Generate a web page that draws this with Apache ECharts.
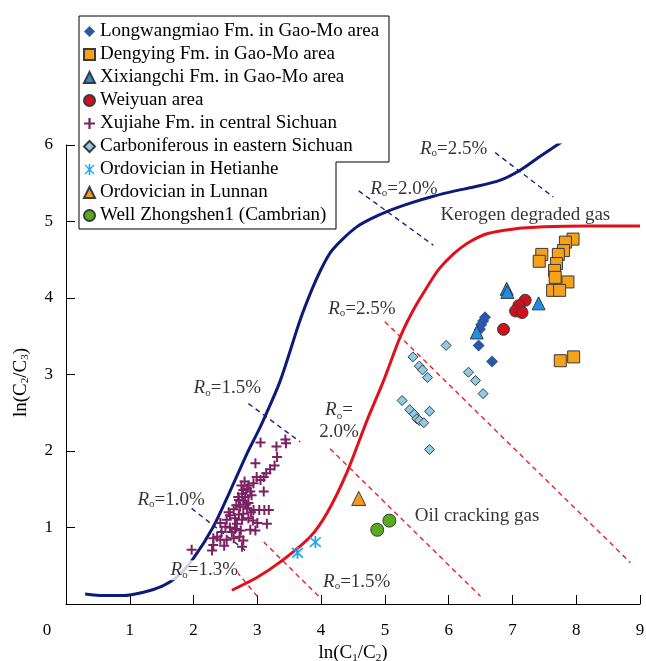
<!DOCTYPE html>
<html>
<head>
<meta charset="utf-8">
<script src="https://cdn.jsdelivr.net/npm/echarts@6/dist/echarts.min.js"></script>
<style>
  html, body { margin: 0; padding: 0; background: #fff; }
  #graph { width: 646px; height: 661px; }
</style>
</head>
<body>
<div id="graph"></div>
<script>
// boundary curves
var kerogenCurve = [[0.3,0.13],[0.6,0.11],[0.9,0.11],[1.2,0.15],[1.5,0.23],[1.75,0.36],[2.0,0.6],
  [2.31,1.01],[2.58,1.49],[2.84,1.97],[3.02,2.27],[3.12,2.45],[3.36,2.92],[3.67,3.71],[3.85,4.1],
  [3.99,4.36],[4.15,4.6],[4.35,4.78],[4.56,4.93],[4.77,5.03],[5.03,5.13],[5.4,5.24],[5.76,5.33],
  [6.1,5.4],[6.39,5.45],[6.81,5.54],[7.12,5.67],[7.43,5.85],[7.77,6.04]];
var oilCurve = [[2.6,0.18],[3.0,0.35],[3.36,0.55],[3.83,0.88],[4.1,1.2],[4.4,1.71],[4.72,2.4],
  [4.98,2.92],[5.24,3.49],[5.45,3.85],[5.66,4.14],[5.85,4.38],[6.08,4.58],[6.3,4.72],[6.6,4.84],
  [7.0,4.9],[7.5,4.93],[8.2,4.94],[9.0,4.94]];

// Ro iso-lines
var roBlue10 = [[1.97,1.25],[2.84,0.68]];
var roBlue15 = [[2.86,2.62],[3.67,2.12]];
var roBlue20 = [[4.59,5.40],[5.76,4.69]];
var roBlue25 = [[6.73,5.90],[7.64,5.32]];
var roRed13 = [[2.68,0.42],[3.0,0.1]];
var roRed15 = [[3.1,0.81],[4.0,0.07]];
var roRed20 = [[4.14,2.03],[6.5,0.1]];
var roRed25 = [[5.0,3.69],[8.85,0.54]];

// samples
var longwangmiao = [[6.57,3.75],[6.54,3.70],[6.51,3.65],[6.49,3.59],[6.47,3.38],[6.68,3.17]];
var dengying = [[7.95,4.77],[7.83,4.73],[7.80,4.62],[7.46,4.57],[7.42,4.48],[7.72,4.57],[7.69,4.45],
  [7.66,4.36],[7.67,4.27],[7.87,4.21],[7.63,4.10],[7.74,4.10],[7.75,3.18],[7.96,3.23]];
var xixiangchi = [[6.91,4.12],[6.92,4.08],[7.41,3.93],[6.44,3.55]];
var weiyuan = [[7.20,3.97],[7.10,3.90],[7.05,3.83],[7.15,3.81],[6.86,3.59]];
var xujiahe = [[3.05,2.11],[3.30,2.06],[3.45,2.10],[3.44,2.15],[3.31,1.92],[2.97,1.84],[3.27,1.81],
  [3.20,1.76],[3.14,1.71],[3.10,1.66],[3.05,1.62],[2.99,1.66],[2.94,1.58],[2.86,1.55],[2.84,1.51],
  [2.78,1.49],[2.89,1.47],[2.76,1.44],[2.81,1.40],[2.91,1.42],[3.10,1.47],[2.71,1.36],[2.78,1.35],
  [2.86,1.32],[2.73,1.27],[2.67,1.29],[2.63,1.24],[2.84,1.25],[2.94,1.23],[3.03,1.23],[3.11,1.23],
  [3.18,1.23],[2.78,1.18],[2.71,1.17],[2.57,1.16],[2.65,1.12],[2.76,1.10],[2.86,1.12],[2.93,1.09],
  [3.00,1.06],[2.52,1.10],[2.42,1.06],[2.50,1.01],[2.57,1.00],[2.65,0.98],[2.74,0.96],[2.89,0.97],
  [2.97,0.96],[2.60,0.94],[2.44,0.94],[2.37,0.88],[2.31,0.86],[2.42,0.84],[2.52,0.84],[2.63,0.86],
  [2.72,0.88],[2.78,0.83],[2.31,0.77],[2.48,0.76],[2.76,0.75],[2.29,0.70],[1.97,0.71],[3.15,1.05],
  [2.80,1.60],[2.75,1.55],[2.82,1.30],[2.70,1.40],[2.90,1.20],[2.68,1.05],[2.55,1.20]];
var carboniferous = [[5.96,3.38],[5.44,3.23],[5.54,3.11],[5.59,3.06],[5.67,2.96],[6.31,3.03],
  [6.42,2.92],[6.54,2.75],[5.27,2.66],[5.39,2.54],[5.46,2.48],[5.50,2.42],[5.54,2.40],[5.61,2.37],
  [5.70,2.52],[5.70,2.02]];
var hetianhe = [[3.63,0.67],[3.91,0.81]];
var lunnan = [[4.59,1.38]];
var zhongshen1 = [[4.88,0.97],[5.07,1.09]];

// annotations: text, x, y
var notes = [
  ['{r|R}{s|o}{t|=2.5%}', 5.55, 5.95],
  ['{r|R}{s|o}{t|=2.0%}', 4.77, 5.43],
  ['{t|Kerogen degraded gas}', 5.87, 5.08],
  ['{r|R}{s|o}{t|=2.5%}', 4.11, 3.86],
  ['{r|R}{s|o}{t|=1.5%}', 2.0, 2.82],
  ['{r|R}{s|o}{t|=1.0%}', 1.12, 1.36],
  ['{r|R}{s|o}{t|=1.3%}', 1.64, 0.44],
  ['{r|R}{s|o}{t|=1.5%}', 4.03, 0.29],
  ['{t|Oil cracking gas}', 5.47, 1.15]
];
var noteRed20 = ['{r|R}{s|o}{t|=}\n{t|2.0%}', 4.28, 2.39];

var FONT = 'Liberation Serif';
var plusPath = 'path://M-1,-5H1V-1H5V1H1V5H-1V1H-5V-1H-1Z';
var starPath = 'path://M-0.7,-5H0.7V5H-0.7Z M-4.5,-3.6L-3.6,-4.5L4.5,3.6L3.6,4.5Z M3.6,-4.5L4.5,-3.6L-3.6,4.5L-4.5,3.6Z';

var dom = document.getElementById('graph');
var myChart = echarts.init(dom);

function dashLine(pts, color) {
  return {
    type: 'line', data: pts, symbol: 'none', silent: true, z: 2,
    lineStyle: { color: color, width: 1.4, type: [5, 4] }
  };
}

function pts(name, data, symbol, size, color, border) {
  return {
    name: name, type: 'scatter', data: data, symbol: symbol, symbolSize: size, z: 5,
    itemStyle: {
      color: color, opacity: 1,
      borderColor: border ? '#3a3a3a' : color,
      borderWidth: border ? 1 : 0
    }
  };
}

var richStyle = {
  r: { fontFamily: FONT, fontSize: 19, fontStyle: 'italic', color: '#000' },
  s: { fontFamily: FONT, fontSize: 11, color: '#000', verticalAlign: 'bottom', padding: [9, 0, 0, 0] },
  t: { fontFamily: FONT, fontSize: 19, color: '#000' }
};

var noteData = notes.map(function (n, i) {
  var item = { value: [n[1], n[2]], label: { formatter: n[0] } };
  if (i === 6) {
    item.label.backgroundColor = '#fff';
  }
  return item;
});
noteData.push({
  value: [noteRed20[1], noteRed20[2]],
  label: { formatter: noteRed20[0], position: 'inside', align: 'center', lineHeight: 22 }
});

var option = {
  animation: false,
  grid: { left: 66, right: 6, top: 145, bottom: 57, outerBoundsMode: 'none' },
  legend: {
    orient: 'vertical', left: 83, top: 22, padding: 0,
    itemWidth: 11, itemHeight: 11, itemGap: 4, selectedMode: false,
    textStyle: { fontFamily: FONT, fontSize: 19, color: '#000', lineHeight: 19 },
    data: ['Longwangmiao Fm. in Gao-Mo area', 'Dengying Fm. in Gao-Mo area',
      'Xixiangchi Fm. in Gao-Mo area', 'Weiyuan area', 'Xujiahe Fm. in central Sichuan',
      'Carboniferous in eastern Sichuan', 'Ordovician in Hetianhe', 'Ordovician in Lunnan',
      'Well Zhongshen1 (Cambrian)']
  },
  graphic: [{
    type: 'polyline', z: 10,
    shape: { points: [[79, 16], [389, 16], [389, 162], [336, 162], [336, 229], [79, 229], [79, 16]] },
    style: { stroke: '#000', lineWidth: 1, fill: null }
  }],
  xAxis: {
    type: 'value', min: 0, max: 9, interval: 1,
    name: '{t|ln(C}{s|1}{t|/C}{s|2}{t|)}', nameLocation: 'middle', nameGap: 37,
    nameTextStyle: { rich: richStyle },
    axisLine: { lineStyle: { color: '#000', width: 1 } },
    axisTick: { inside: true, length: 9, lineStyle: { color: '#000' } },
    axisLabel: {
      fontFamily: FONT, fontSize: 17, color: '#000', margin: 18,
      formatter: function (v) { return v === 0 ? '{z|0}' : String(v); },
      rich: { z: { fontFamily: FONT, fontSize: 17, color: '#000', padding: [0, 38, 0, 0] } }
    },
    splitLine: { show: false }
  },
  yAxis: {
    type: 'value', min: 0, max: 6, interval: 1,
    name: '{t|ln(C}{s|2}{t|/C}{s|3}{t|)}', nameLocation: 'middle', nameGap: 35, nameRotate: 90,
    nameTextStyle: { rich: richStyle, padding: [0, 16, 0, 0] },
    axisLine: { lineStyle: { color: '#000', width: 1 } },
    axisTick: { inside: true, length: 9, lineStyle: { color: '#000' } },
    axisLabel: { fontFamily: FONT, fontSize: 17, color: '#000', margin: 13, showMinLabel: false },
    splitLine: { show: false }
  },
  series: [
    { type: 'line', data: kerogenCurve, smooth: 0.3, symbol: 'none', silent: true, z: 3,
      lineStyle: { color: '#0c1a78', width: 3 } },
    { type: 'line', data: oilCurve, smooth: 0.3, symbol: 'none', silent: true, z: 3,
      lineStyle: { color: '#e0101c', width: 3 } },
    dashLine(roBlue10, '#1a2486'), dashLine(roBlue15, '#1a2486'),
    dashLine(roBlue20, '#1a2486'), dashLine(roBlue25, '#1a2486'),
    dashLine(roRed13, '#e8202c'), dashLine(roRed15, '#e8202c'),
    dashLine(roRed20, '#e8202c'), dashLine(roRed25, '#e8202c'),
    pts('Longwangmiao Fm. in Gao-Mo area', longwangmiao, 'diamond', 12, '#2c56a6', false),
    pts('Dengying Fm. in Gao-Mo area', dengying, 'rect', 12, '#f5a11a', true),
    pts('Xixiangchi Fm. in Gao-Mo area', xixiangchi, 'triangle', 13, '#1e8fe2', true),
    pts('Weiyuan area', weiyuan, 'circle', 12, '#d0101e', true),
    pts('Xujiahe Fm. in central Sichuan', xujiahe, plusPath, 10, '#7c2262', false),
    pts('Carboniferous in eastern Sichuan', carboniferous, 'diamond', 10, '#8fcbe3', true),
    pts('Ordovician in Hetianhe', hetianhe, starPath, 12, '#27a6f0', false),
    pts('Ordovician in Lunnan', lunnan, 'triangle', 14, '#f39a1e', true),
    pts('Well Zhongshen1 (Cambrian)', zhongshen1, 'circle', 13, '#5aaa1e', true),
    {
      type: 'scatter', data: noteData, symbolSize: 0, silent: true, z: 8,
      label: { show: true, position: 'right', distance: 0, rich: richStyle }
    }
  ]
};

if (option && typeof option === 'object') {
  myChart.setOption(option, true);
}
</script>
</body>
</html>
